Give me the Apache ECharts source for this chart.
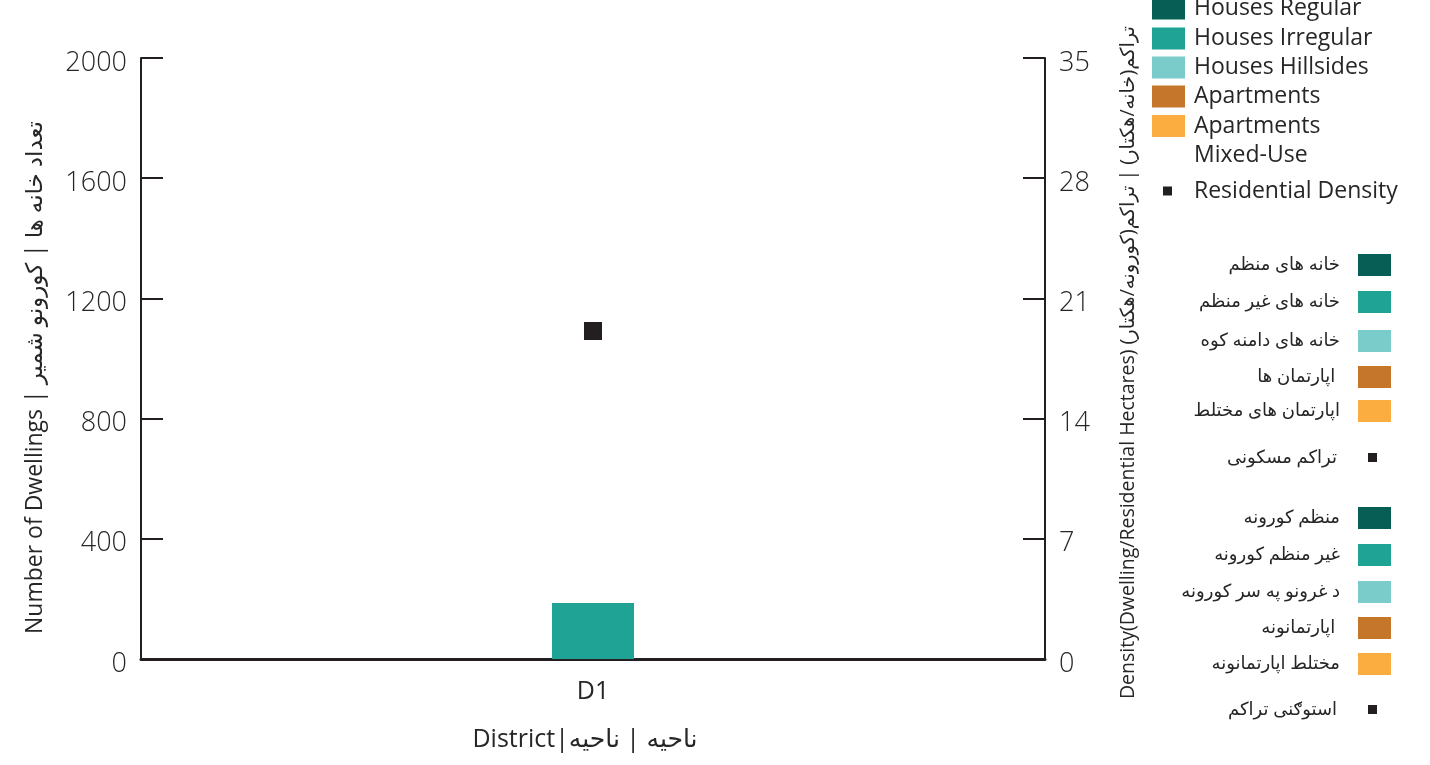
<!DOCTYPE html>
<html>
<head>
<meta charset="utf-8">
<script src="https://cdn.jsdelivr.net/npm/echarts@6/dist/echarts.min.js"></script>
<style>
html,body{margin:0;padding:0;background:#fff;}
#c{width:1430px;height:765px;}
</style>
</head>
<body>
<div id="c"></div>
<script>
// ---- data ----
const categories = ['D1'];
const housesRegular = [0];
const housesIrregular = [186];
const housesHillsides = [0];
const apartments = [0];
const apartmentsMixed = [0];
const residentialDensity = [19.1];
const leftTicks = [0, 400, 800, 1200, 1600, 2000];
const rightTicks = [0, 7, 14, 21, 28, 35];

const namesEn = ['Houses Regular', 'Houses Irregular', 'Houses Hillsides', 'Apartments', 'Apartments Mixed-Use', 'Residential Density'];
const namesFa = ['خانه های منظم', 'خانه های غیر منظم', 'خانه های دامنه کوه', 'اپارتمان ها ', 'اپارتمان های مختلط', 'تراکم مسکونی'];
const namesPs = ['منظم کورونه', 'غیر منظم کورونه', 'د غرونو په سر کورونه', 'اپارتمانونه ', 'مختلط اپارتمانونه', 'استوګنی تراکم'];

// ---- styles / layout ----
const colors = ['#065e54', '#1fa394', '#7accca', '#c6762a', '#fbae3f', '#231f20'];
const FONT = '"Open Sans", "DejaVu Sans", sans-serif';
const TXT = '#262626';
const enTops = [8, 38, 67, 96, 126, 184];     // icon centres
const faTops = [265, 302, 341, 377, 411, 453];
const psTops = [518, 555, 592, 628, 664, 705];

const barValues = [housesRegular, housesIrregular, housesHillsides, apartments, apartmentsMixed];

const series = [];
barValues.forEach((vals, i) => {
  series.push({
    name: namesEn[i], type: 'bar', stack: 'd', barWidth: 82,
    itemStyle: {color: colors[i]}, data: vals
  });
});
series.push({
  name: namesEn[5], type: 'scatter', yAxisIndex: 1, symbol: 'rect', symbolSize: 18,
  itemStyle: {color: colors[5], opacity: 1}, data: residentialDensity
});
// legend-only twins for the Dari and Pashto legends (no data)
[namesFa, namesPs].forEach(list => {
  list.forEach((n, i) => {
    if (i < 5) series.push({name: n, type: 'bar', stack: 'd', barWidth: 82, itemStyle: {color: colors[i]}, data: []});
    else series.push({name: n, type: 'scatter', yAxisIndex: 1, symbol: 'rect', itemStyle: {color: colors[5], opacity: 1}, data: []});
  });
});

const legends = [];
namesEn.forEach((n, i) => {
  const isDot = i === 5;
  const lg = {
    orient: 'vertical', selectedMode: false, padding: 0,
    left: isDot ? 1163 : 1152,
    top: enTops[i] - (isDot ? 4.5 : 11),
    itemWidth: isDot ? 9 : 33, itemHeight: isDot ? 9 : 22,
    icon: 'rect',
    data: [n],
    itemStyle: {opacity: 1},
    textStyle: {fontFamily: FONT, fontSize: 23, color: TXT, padding: isDot ? [0, 0, 0, 17] : [0, 0, 0, 4]}
  };
  if (i === 4) {
    lg.formatter = () => ' \nApartments\nMixed-Use';
    lg.textStyle.lineHeight = 29;
    lg.top = enTops[i] - 43.5;
  }
  legends.push(lg);
});
[[namesFa, faTops], [namesPs, psTops]].forEach(([list, tops]) => {
  list.forEach((n, i) => {
    const isDot = i === 5;
    legends.push({
      orient: 'vertical', selectedMode: false, align: 'right', padding: 0,
      right: isDot ? 1430 - 1377 : 1430 - 1391,
      top: tops[i] - (isDot ? 4.5 : 11),
      itemWidth: isDot ? 9 : 33, itemHeight: isDot ? 9 : 22,
      icon: 'rect',
      data: [n],
      itemStyle: {opacity: 1},
      textStyle: {fontFamily: FONT, fontSize: 18, color: TXT, padding: isDot ? [0, 26, 0, 0] : [0, 13, 0, 0]}
    });
  });
});

const tickFmt = v => String(v);
const tickLabel = {fontFamily: FONT, fontSize: 27, color: TXT, margin: 14, fontWeight: 300,
  formatter: tickFmt, verticalAlign: 'top', lineHeight: 10};

const chart = echarts.init(document.getElementById('c'));
chart.setOption({
  animation: false,
  backgroundColor: '#fff',
  grid: {left: 141, right: 385, top: 58, bottom: 106, containLabel: false},
  legend: legends,
  xAxis: {
    type: 'category', data: categories,
    axisLine: {lineStyle: {color: '#231f20', width: 3}},
    axisTick: {show: false},
    axisLabel: {fontFamily: FONT, fontSize: 25, color: TXT, margin: 20},
    name: 'District|ناحیه | ناحیه', nameLocation: 'middle', nameGap: 68,
    nameTextStyle: {fontFamily: FONT, fontSize: 25, color: TXT, padding: [0, 16, 0, 0]}
  },
  yAxis: [{
    type: 'value', min: leftTicks[0], max: leftTicks[leftTicks.length - 1], interval: leftTicks[1] - leftTicks[0],
    position: 'left',
    axisLine: {show: true, lineStyle: {color: '#231f20', width: 2}},
    axisTick: {show: true, inside: true, length: 22, lineStyle: {color: '#231f20', width: 2}},
    axisLabel: tickLabel,
    splitLine: {show: false},
    name: 'Number of Dwellings | تعداد خانه ها | کورونو شمیر', nameLocation: 'middle', nameRotate: 90, nameGap: 94,
    nameTextStyle: {fontFamily: FONT, fontSize: 23, color: TXT, padding: [0, 38, 0, 0]}
  }, {
    type: 'value', min: rightTicks[0], max: rightTicks[rightTicks.length - 1], interval: rightTicks[1] - rightTicks[0],
    position: 'right',
    axisLine: {show: true, lineStyle: {color: '#231f20', width: 2}},
    axisTick: {show: true, inside: true, length: 22, lineStyle: {color: '#231f20', width: 2}},
    axisLabel: tickLabel,
    splitLine: {show: false},
    name: 'Density(Dwelling/Residential Hectares) تراکم(خانه/هکتار) | تراکم(کورونه/هکتار)', nameLocation: 'middle', nameRotate: 90, nameGap: 73,
    nameTextStyle: {fontFamily: FONT, fontSize: 19.5, color: TXT, padding: [0, 8, 0, 0]}
  }],
  series: series
});
</script>
</body>
</html>
